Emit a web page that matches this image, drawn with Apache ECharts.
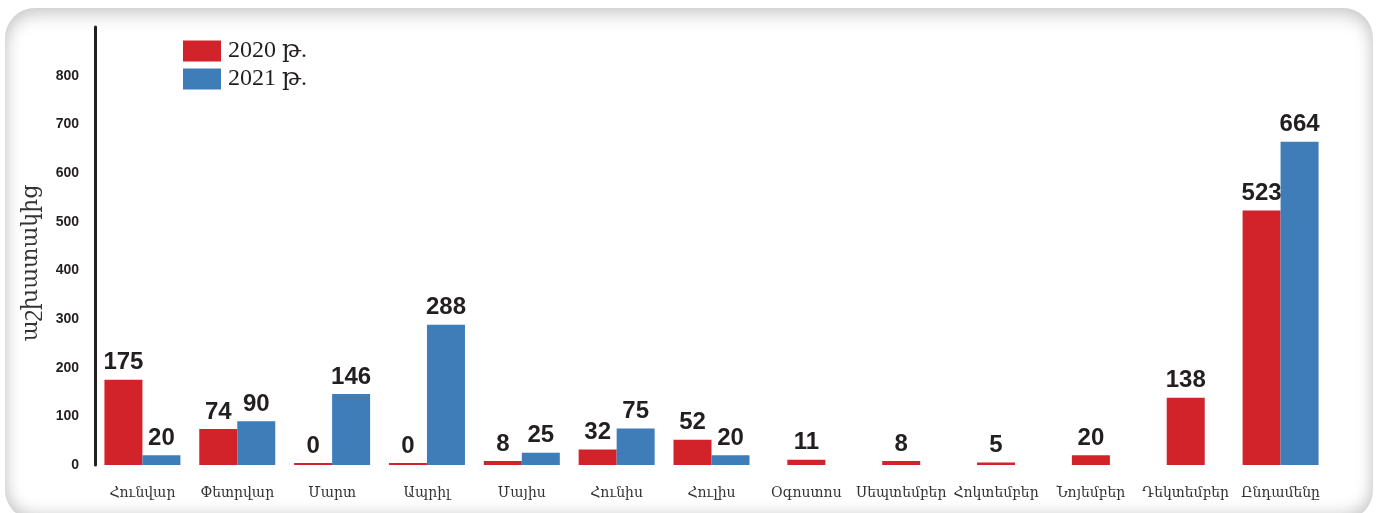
<!DOCTYPE html>
<html>
<head>
<meta charset="utf-8">
<script src="https://cdn.jsdelivr.net/npm/echarts@6/dist/echarts.min.js"></script>
<style>
    html, body { margin: 0; padding: 0; background: #fff; width: 1378px; height: 513px; overflow: hidden; }
    #frame {
        position: absolute; left: 5px; top: 8px; width: 1368px; height: 512px;
        border-radius: 30px; background: #fff;
        box-shadow: inset 0 0 16px 3px rgba(0, 0, 0, 0.15), inset 0 16px 20px -8px rgba(0, 0, 0, 0.10),
                    inset 0 -14px 18px -8px rgba(0, 0, 0, 0.10);
    }
    #chart { position: absolute; left: 0; top: 0; width: 1378px; height: 513px; }
</style>
</head>
<body>
<div id="frame"></div>
<div id="chart"></div>
<script>
    var months = ['Հունվար', 'Փետրվար', 'Մարտ', 'Ապրիլ', 'Մայիս', 'Հունիս', 'Հուլիս',
        'Օգոստոս', 'Սեպտեմբեր', 'Հոկտեմբեր', 'Նոյեմբեր', 'Դեկտեմբեր', 'Ընդամենը'];
    var values2020 = [175, 74, 0, 0, 8, 32, 52, 11, 8, 5, 20, 138, 523];
    var values2021 = [20, 90, 146, 288, 25, 75, 20, null, null, null, null, null, 664];

    var red = '#d2232a';
    var blue = '#3f7db8';

    // months without 2021 data get a single centred bar on a second (hidden) axis
    var paired2020 = values2020.map(function (v, i) { return values2021[i] == null ? null : v; });
    var single2020 = values2020.map(function (v, i) { return values2021[i] == null ? v : null; });

    var barLabel = {
        show: true,
        position: 'top',
        distance: 5,
        color: '#231f20',
        fontFamily: 'Liberation Sans',
        fontWeight: 'bold',
        fontSize: 24
    };

    var chart = echarts.init(document.getElementById('chart'));

    var option = {
        animation: false,
        backgroundColor: 'transparent',
        legend: {
            orient: 'vertical',
            left: 178,
            top: 34,
            icon: 'rect',
            itemWidth: 38,
            itemHeight: 21,
            itemGap: 4,
            data: ['2020 թ.', '2021 թ.'],
            textStyle: {
                fontFamily: "'Liberation Serif', 'DejaVu Serif'",
                fontSize: 24,
                color: '#231f20',
                padding: [0, 0, 0, 2]
            }
        },
        grid: {
            left: 95,
            right: 50,
            top: 27,
            bottom: 48
        },
        graphic: [{
            type: 'text',
            x: 31,
            y: 263,
            rotation: Math.PI / 2,
            style: {
                text: 'աշխատակից',
                fontFamily: 'DejaVu Serif',
                fontSize: 22,
                fill: '#333',
                align: 'center',
                verticalAlign: 'middle'
            }
        }],
        xAxis: [
            {
                type: 'category',
                data: months,
                axisLine: { show: false },
                axisTick: { show: false },
                axisLabel: {
                    interval: 0,
                    margin: 21,
                    fontFamily: 'DejaVu Serif',
                    fontSize: 14,
                    color: '#333'
                }
            },
            {
                type: 'category',
                data: months,
                show: false
            }
        ],
        yAxis: {
            type: 'value',
            min: 0,
            max: 900,
            interval: 100,
            axisLine: { show: true, lineStyle: { color: '#231f20', width: 3 } },
            axisTick: { show: false },
            splitLine: { show: false },
            axisLabel: {
                showMaxLabel: false,
                margin: 16,
                fontFamily: 'Liberation Sans',
                fontWeight: 'bold',
                fontSize: 14,
                color: '#231f20'
            }
        },
        series: [
            {
                name: '2020 թ.',
                type: 'bar',
                xAxisIndex: 0,
                barWidth: 38,
                barGap: '0%',
                barMinHeight: 2,
                itemStyle: { color: red },
                label: barLabel,
                data: paired2020
            },
            {
                name: '2021 թ.',
                type: 'bar',
                xAxisIndex: 0,
                barWidth: 38,
                barGap: '0%',
                barMinHeight: 2,
                itemStyle: { color: blue },
                label: barLabel,
                data: values2021
            },
            {
                name: '2020 թ.',
                type: 'bar',
                xAxisIndex: 1,
                barWidth: 38,
                barMinHeight: 2,
                itemStyle: { color: red },
                label: barLabel,
                data: single2020
            }
        ]
    };
    chart.setOption(option);
</script>
</body>
</html>
